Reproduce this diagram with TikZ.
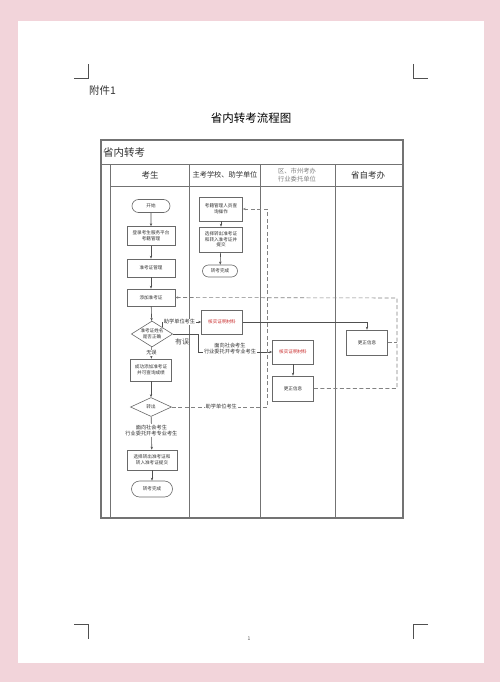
\documentclass[tikz,border=0pt]{standalone}
\usepackage{fontspec}
\setmainfont{Noto Sans CJK SC}
\usetikzlibrary{shapes.geometric,shapes.misc,arrows.meta}
\definecolor{bgpink}{RGB}{242,212,218}
\definecolor{boxc}{RGB}{105,105,105}
\definecolor{linec}{RGB}{80,80,80}
\definecolor{dashc}{RGB}{130,130,130}
\definecolor{tablec}{RGB}{115,115,115}
\definecolor{txt}{RGB}{50,50,50}
\definecolor{redt}{RGB}{200,40,40}
\newcommand\bt{\fontsize{4.6}{5.6}\selectfont}
\newcommand\lt{\fontsize{5.2}{6.2}\selectfont}
\begin{document}
\begin{tikzpicture}[x=1pt,y=-1pt,
  box/.style={draw=boxc, line width=0.6pt, fill=white, inner sep=0.5pt, align=center, font=\bt, text=txt},
  term/.style={box, rounded rectangle},
  dia/.style={box, diamond, aspect=1.6},
  lbl/.style={font=\lt, text=txt, align=center, fill=white, inner sep=0.6pt},
  conn/.style={draw=linec, line width=0.6pt, -{Stealth[length=3pt,width=2.4pt]}},
  dconn/.style={conn, draw=dashc, dash pattern=on 4pt off 2.5pt},
  tl/.style={draw=tablec, line width=0.9pt},
  hdr/.style={text=txt, align=center},
  crop/.style={draw=linec, line width=0.8pt}]
\fill[bgpink] (0,0) rectangle (500,682);
\useasboundingbox (0,0) rectangle (500,682);
\fill[white] (18,21) rectangle (484,663);
% crop marks
\draw[crop] (74,78) -- (88,78) -- (88,64);
\draw[crop] (413,64) -- (413,78) -- (428,78);
\draw[crop] (74,624) -- (88,624) -- (88,639);
\draw[crop] (428,624) -- (413,624) -- (413,639);
\node[anchor=west, font=\fontsize{10.5}{12}\selectfont, text=txt, inner sep=0] (att) at (89,91) {附件1};
\node[font=\fontsize{11.5}{13}\selectfont, text=black] (title) at (251,118) {省内转考流程图};
\node[font=\fontsize{5}{6}\selectfont, text=linec] (pnum) at (249,639) {1};
% table
\draw[tl, line width=1.1pt] (101,140) rectangle (403,518);
\draw[tl] (101,164) -- (403,164);
\draw[tl] (110,164) -- (110,518);
\draw[tl] (110,186) -- (403,186);
\draw[tl] (189,164) -- (189,518);
\draw[tl] (260,164) -- (260,518);
\draw[tl] (335,164) -- (335,518);
\node[anchor=west, font=\fontsize{10.5}{12}\selectfont, text=txt, inner sep=0] (tt) at (103,153) {省内转考};
\node[hdr, font=\fontsize{8.5}{10}\selectfont] (h1) at (150,175) {考生};
\node[hdr, font=\fontsize{7.2}{8}\selectfont] (h2) at (225,175) {主考学校、助学单位};
\node[hdr, font=\fontsize{6.3}{7.4}\selectfont, text=gray] (h3) at (297,175) {区、市州考办\\行业委托单位};
\node[hdr, font=\fontsize{8.5}{10}\selectfont] (h4) at (368,175) {省自考办};
% lane 1
\node[term, minimum width=39pt, minimum height=13pt] (start) at (151,206) {开始};
\node[box, minimum width=48pt, minimum height=19pt] (login) at (151,236) {登录考生服务平台\\考籍管理};
\node[box, minimum width=48pt, minimum height=18pt] (zkz) at (151,268) {准考证管理};
\node[box, minimum width=48pt, minimum height=17pt] (add) at (151,297.5) {添加准考证};
\node[dia, minimum width=40pt, minimum height=26pt] (chk) at (152,334) {准考证姓名\\是否正确};
\node[box, minimum width=41pt, minimum height=22pt] (succ) at (151,370) {成功添加准考证\\并可查询成绩};
\node[dia, minimum width=41pt, minimum height=19pt] (out) at (151,407) {转出};
\node[box, minimum width=50pt, minimum height=20pt] (sel1) at (152,460) {选择转出准考证和\\转入准考证提交};
\node[term, minimum width=42pt, minimum height=16pt] (done1) at (152,489) {转考完成};
% lane 2
\node[box, minimum width=43pt, minimum height=24pt] (query) at (221,209) {考籍管理人员查\\询操作};
\node[box, minimum width=43pt, minimum height=25pt] (sel2) at (221,239.5) {选择转出准考证\\和转入准考证并\\提交};
\node[term, minimum width=36pt, minimum height=12pt] (done2) at (220,271) {转考完成};
\node[box, minimum width=41pt, minimum height=24pt, text=redt] (ver2) at (222,322) {核实证明材料};
% lane 3
\node[box, minimum width=41pt, minimum height=24pt, text=redt] (ver3) at (293,352) {核实证明材料};
\node[box, minimum width=41pt, minimum height=25pt] (fix3) at (293,388.5) {更正信息};
% lane 4
\node[box, minimum width=41pt, minimum height=25pt] (fix4) at (367,342.5) {更正信息};
% connectors lane 1
\draw[conn] (start) -- (login);
\draw[conn] (login) -- (zkz);
\draw[conn] (zkz) -- (add);
\draw[conn] (add) -- (chk);
\draw[conn] (chk) -- node[lbl] (l1) {无误} (succ);
\draw[conn] (succ) -- (out);
\draw[conn] (out) -- node[lbl, pos=0.42] (l2) {面向社会考生\\行业委托开考专业考生} (sel1);
\draw[conn] (sel1) -- (done1);
% lane 2
\draw[conn] (query) -- (sel2);
\draw[conn] (sel2) -- (done2);
% branches
\draw[conn] (chk.north east) |- node[lbl, pos=0.72] (l3) {助学单位考生} (ver2.west);
\coordinate (b1) at (198,334);
\draw[conn] (chk.east) -- (b1) |- (ver3.west);
\node[lbl] (l4) at (230,348.5) {面向社会考生\\行业委托开考专业考生};
\node[font=\fontsize{7}{8}\selectfont, text=linec] (l5) at (182,342) {有误};
\draw[conn] (ver2.east) -| (fix4.north);
\draw[conn] (ver3) -- (fix3);
% dashed returns
\coordinate (r1) at (397,298);
\draw[dconn] (fix3.east) -| (r1) -- (add.east);
\draw[dconn, -] (fix4.east) -- (fix4.east -| r1);
\coordinate (r2) at (267,209);
\draw[dconn] (out.east) -| node[lbl, pos=0.26] (l6) {助学单位考生} (r2) -- (query.east);
\end{tikzpicture}
\end{document}
